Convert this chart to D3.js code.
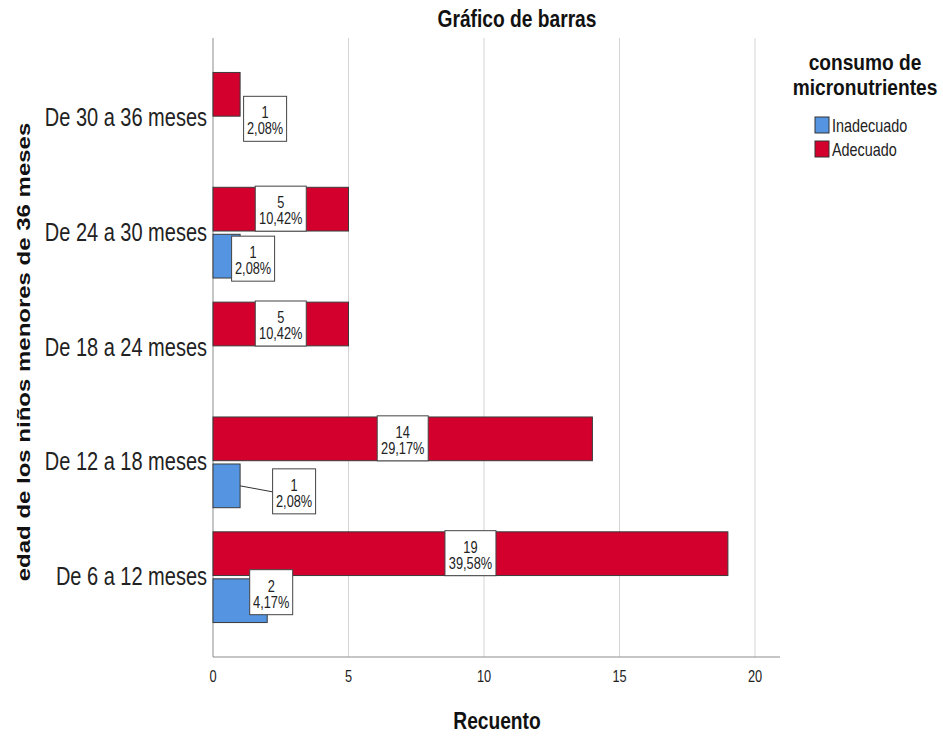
<!DOCTYPE html>
<html>
<head>
<meta charset="utf-8">
<script src="https://cdn.jsdelivr.net/npm/d3@7"></script>
<style>
  body { margin: 0; background: #fff; }
  text { font-family: "Liberation Sans", Arial, sans-serif; }
</style>
</head>
<body>
<div id="chart"></div>
<script>
// categories, top to bottom
const categories = ["De 30 a 36 meses", "De 24 a 30 meses", "De 18 a 24 meses", "De 12 a 18 meses", "De 6 a 12 meses"];
const seriesNames = ["Adecuado", "Inadecuado"];
const adecuado = [1, 5, 5, 14, 19];
const inadecuado = [0, 1, 0, 1, 2];
const adecuadoPct = ["2,08%", "10,42%", "10,42%", "29,17%", "39,58%"];
const inadecuadoPct = ["", "2,08%", "", "2,08%", "4,17%"];
const xTicks = [0, 5, 10, 15, 20];
const legendOrder = ["Inadecuado", "Adecuado"];

const width = 943, height = 736;
const margin = {top: 38, left: 213, bottom: 79};
const colors = {Adecuado: "#d3002e", Inadecuado: "#5594e0"};
const sx = 0.8; // the original font is tall and narrow

const svg = d3.select("#chart").append("svg")
  .attr("width", width)
  .attr("height", height);

const x = d3.scaleLinear().domain([0, 20]).range([213, 755]);
const y = d3.scaleBand().domain(categories)
  .range([margin.top, height - margin.bottom])
  .paddingInner(0.21).paddingOuter(0.3);
const ySub = d3.scaleBand().domain(seriesNames)
  .range([0, y.bandwidth()]).paddingInner(0.07);

// squeezed text helper
function narrow(sel, px, py, k = sx) {
  return sel.attr("transform", (d, i) => `translate(${px(d, i)},${py(d, i)}) scale(${k},1)`);
}

// flatten
const rows = [];
categories.forEach((c, i) => {
  rows.push({cat: c, s: "Adecuado", v: adecuado[i], pct: adecuadoPct[i]});
  if (inadecuado[i] > 0) rows.push({cat: c, s: "Inadecuado", v: inadecuado[i], pct: inadecuadoPct[i]});
});

// gridlines
svg.append("g").selectAll("line")
  .data(xTicks.filter(t => t > 0))
  .join("line")
  .attr("x1", d => x(d)).attr("x2", d => x(d))
  .attr("y1", margin.top).attr("y2", height - margin.bottom)
  .attr("stroke", "#d4d4d4").attr("stroke-width", 1);

// axes
const axisY = height - margin.bottom;
svg.append("line")
  .attr("x1", x(0)).attr("x2", x(0))
  .attr("y1", margin.top).attr("y2", axisY)
  .attr("stroke", "#8c8c8c");
svg.append("line")
  .attr("x1", x(0)).attr("x2", 780)
  .attr("y1", axisY).attr("y2", axisY)
  .attr("stroke", "#8c8c8c");

svg.append("g").selectAll("text")
  .data(xTicks)
  .join("text")
  .call(narrow, d => x(d), () => axisY + 25)
  .attr("text-anchor", "middle")
  .attr("font-size", 16)
  .attr("fill", "#222")
  .text(d => d);

svg.append("g").selectAll("text")
  .data(categories)
  .join("text")
  .call(narrow, () => 207, d => y(d) + y.bandwidth() / 2 + 8)
  .attr("text-anchor", "end")
  .attr("font-size", 25)
  .attr("fill", "#222")
  .text(d => d);

// bars
svg.append("g").selectAll("rect")
  .data(rows)
  .join("rect")
  .attr("x", x(0))
  .attr("y", d => y(d.cat) + ySub(d.s))
  .attr("width", d => x(d.v) - x(0))
  .attr("height", ySub.bandwidth())
  .attr("fill", d => colors[d.s])
  .attr("stroke", "#3a3a3a")
  .attr("stroke-width", 1);

// label placement: centred in bar if it fits, otherwise pushed to the right
const nudge = {
  "De 30 a 36 meses|Adecuado": {dx: 25, dy: 25},
  "De 24 a 30 meses|Inadecuado": {dx: 13, dy: 3},
  "De 12 a 18 meses|Inadecuado": {dx: 54, dy: 6, leader: true},
  "De 6 a 12 meses|Inadecuado": {dx: 4, dy: -8}
};
const labels = svg.append("g").selectAll("g")
  .data(rows)
  .join("g")
  .attr("transform", d => {
    const cy = y(d.cat) + ySub(d.s) + ySub.bandwidth() / 2;
    const end = x(d.v);
    const n = nudge[d.cat + "|" + d.s];
    d.w = d.pct.length > 5 ? 51 : 43;
    if (n) return `translate(${end + n.dx}, ${cy + n.dy})`;
    return `translate(${(x(0) + end) / 2}, ${cy})`;
  });

labels.each(function(d) {
  const n = nudge[d.cat + "|" + d.s];
  if (n && n.leader) {
    d3.select(this).append("line")
      .attr("x1", -n.dx).attr("y1", -n.dy)
      .attr("x2", -d.w / 2).attr("y2", 0)
      .attr("stroke", "#333");
  }
});

labels.append("rect")
  .attr("x", d => -d.w / 2)
  .attr("y", -23)
  .attr("width", d => d.w)
  .attr("height", 45)
  .attr("fill", "#fff")
  .attr("stroke", "#444");
labels.append("text")
  .call(narrow, () => 0, () => -1)
  .attr("text-anchor", "middle")
  .attr("font-size", 16)
  .attr("fill", "#222")
  .text(d => d.v);
labels.append("text")
  .call(narrow, () => 0, () => 15)
  .attr("text-anchor", "middle")
  .attr("font-size", 16)
  .attr("fill", "#222")
  .text(d => d.pct);

// titles
svg.append("text")
  .attr("transform", `translate(517,27) scale(${sx},1)`)
  .attr("text-anchor", "middle")
  .attr("font-size", 24).attr("font-weight", "bold")
  .attr("fill", "#111")
  .text("Gráfico de barras");

svg.append("text")
  .attr("transform", `translate(497,729) scale(${sx},1)`)
  .attr("text-anchor", "middle")
  .attr("font-size", 24).attr("font-weight", "bold")
  .attr("fill", "#111")
  .text("Recuento");

svg.append("text")
  .attr("transform", `translate(30, 352) rotate(-90) scale(1,${sx})`)
  .attr("text-anchor", "middle")
  .attr("font-size", 24).attr("font-weight", "bold")
  .attr("fill", "#111")
  .text("edad de los niños menores de 36 meses");

// legend
const legend = svg.append("g");
legend.selectAll("text.title")
  .data(["consumo de", "micronutrientes"])
  .join("text")
  .attr("class", "title")
  .call(narrow, () => 865, (d, i) => 70 + i * 25, 0.87)
  .attr("text-anchor", "middle")
  .attr("font-size", 22).attr("font-weight", "bold")
  .attr("fill", "#111")
  .text(d => d);

const items = legend.selectAll("g.item")
  .data(legendOrder)
  .join("g")
  .attr("class", "item")
  .attr("transform", (d, i) => `translate(815, ${117 + i * 24})`);
items.append("rect")
  .attr("width", 14).attr("height", 16)
  .attr("fill", d => colors[d])
  .attr("stroke", "#333");
items.append("text")
  .call(narrow, () => 17, () => 15)
  .attr("font-size", 18)
  .attr("fill", "#222")
  .text(d => d);
</script>
</body>
</html>
